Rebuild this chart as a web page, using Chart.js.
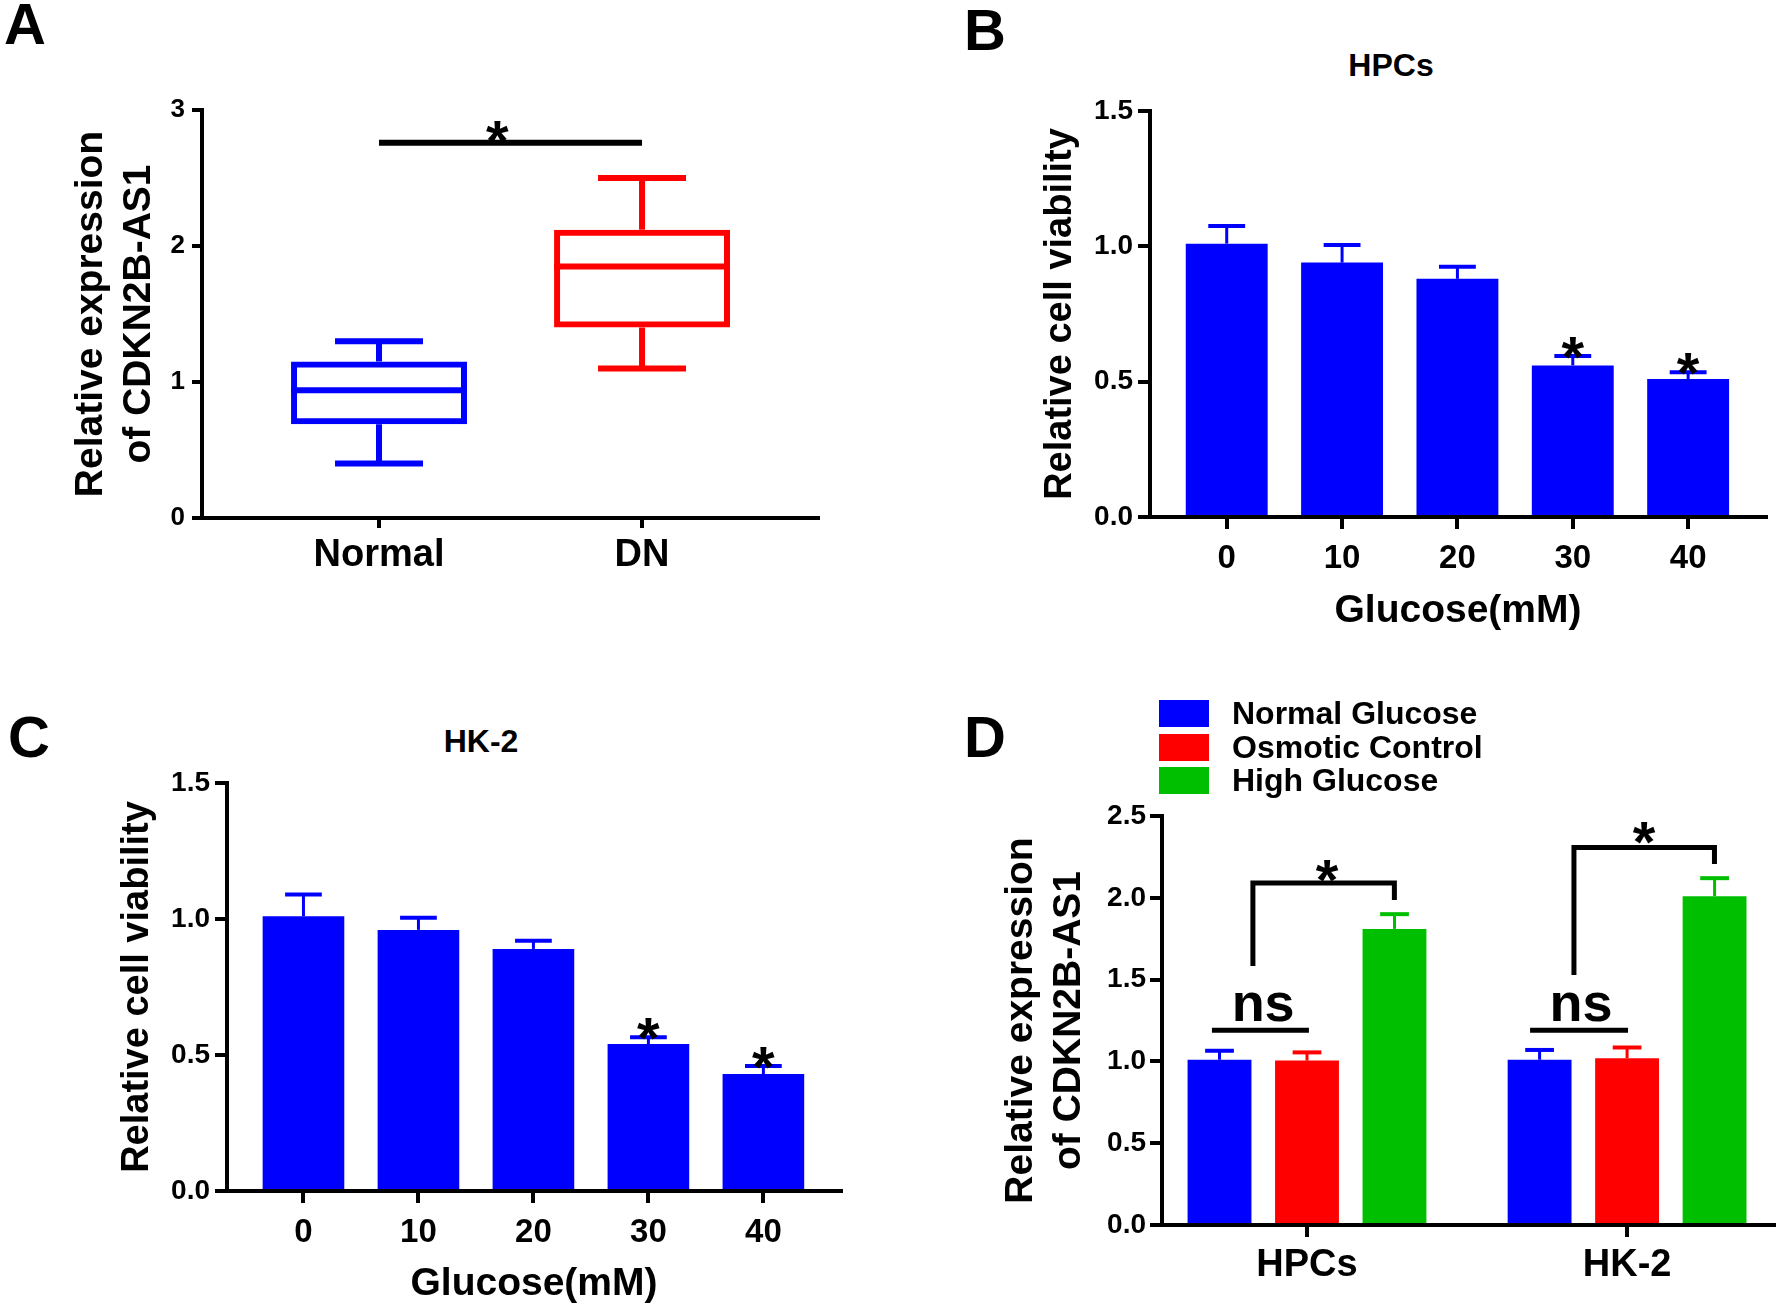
<!DOCTYPE html>
<html>
<head>
<meta charset="utf-8">
<script src="https://cdn.jsdelivr.net/npm/chart.js@4.4.1/dist/chart.umd.min.js"></script>
<style>
  body { margin: 0; background: #fff; font-family: "Liberation Sans", Arial, sans-serif; }
  #page { position: relative; width: 1776px; height: 1311px; overflow: hidden; background: #fff; }
  canvas { position: absolute; }
  .txt { position: absolute; font-weight: bold; color: #000; line-height: 1; white-space: nowrap; }
  .letter { font-size: 58px; }
  .ttl { font-size: 32px; transform: translateX(-50%); }
  #legendD { position: absolute; left: 1159px; top: 700px; z-index: 2; }
  .legRow { display: flex; align-items: flex-start; height: 33.5px; font-weight: bold; font-size: 32px; line-height: 27px; }
  .sw { width: 50px; height: 27px; margin-right: 23px; }
</style>
</head>
<body>
<div id="page">
  <div class="txt letter" style="left:4px; top:-5px;">A</div>
  <div class="txt letter" style="left:964px; top:1px;">B</div>
  <div class="txt letter" style="left:8px; top:708px;">C</div>
  <div class="txt letter" style="left:964px; top:708px;">D</div>
  <div class="txt ttl" style="left:1391px; top:49px;">HPCs</div>
  <div class="txt ttl" style="left:481px; top:725px;">HK-2</div>
  <canvas id="chartA" width="830" height="600" style="left:0px; top:50px;"></canvas>
  <canvas id="chartB" width="896" height="660" style="left:880px; top:0px;"></canvas>
  <canvas id="chartC" width="853" height="651" style="left:0px; top:660px;"></canvas>
  <canvas id="chartD" width="896" height="521" style="left:880px; top:790px;"></canvas>
  <div id="legendD"></div>
</div>
<script>
// panel A - box plot
const catsA = ["Normal", "DN"];
const boxMin = [0.40, 1.10];
const boxQ1 = [0.69, 1.40];
const boxMed = [0.94, 1.85];
const boxQ3 = [1.15, 2.12];
const boxMax = [1.30, 2.50];
const yTicksA = [0, 1, 2, 3];

// panels B and C - viability vs glucose
const glucose = ["0", "10", "20", "30", "40"];
const hpcsViab = [1.01, 0.94, 0.88, 0.56, 0.51];
const hpcsErr = [0.065, 0.065, 0.045, 0.035, 0.025];
const hk2Viab = [1.01, 0.96, 0.89, 0.54, 0.43];
const hk2Err = [0.08, 0.045, 0.03, 0.025, 0.03];
const sigViab = [3, 4];
const yTicksViab = [0, 0.5, 1.0, 1.5];

// panel D - grouped bars
const cellLines = ["HPCs", "HK-2"];
const groupNames = ["Normal Glucose", "Osmotic Control", "High Glucose"];
const normalGlu = [1.01, 1.01];
const normalErr = [0.055, 0.06];
const osmotic = [1.005, 1.02];
const osmoticErr = [0.05, 0.065];
const highGlu = [1.81, 2.01];
const highErr = [0.09, 0.11];
const yTicksD = [0, 0.5, 1.0, 1.5, 2.0, 2.5];

const BLUE = "#0000FF", RED = "#FF0000", GREEN = "#00BF00";

Chart.defaults.font.family = '"Liberation Sans", Arial, sans-serif';
Chart.defaults.font.weight = "bold";
Chart.defaults.color = "#000";

// error bars, box whiskers, brackets and stars
const marks = {
    id: "marks",
    afterDatasetsDraw(chart, args, opts) {
        const ctx = chart.ctx;
        const xs = chart.scales.x, ys = chart.scales.y;
        ctx.save();
        ctx.lineCap = "butt";
        ctx.lineJoin = "miter";

        chart.data.datasets.forEach((ds, di) => {
            const meta = chart.getDatasetMeta(di);
            meta.data.forEach((bar, i) => {
                if (ds.errors) {
                    const top = ys.getPixelForValue(ds.data[i].y + ds.errors[i]);
                    const half = bar.width * 0.45 / 2;
                    ctx.strokeStyle = ds.backgroundColor;
                    ctx.lineWidth = 3;
                    ctx.beginPath(); ctx.moveTo(bar.x, bar.y); ctx.lineTo(bar.x, top); ctx.stroke();
                    ctx.lineWidth = 4;
                    ctx.beginPath(); ctx.moveTo(bar.x - half, top); ctx.lineTo(bar.x + half, top); ctx.stroke();
                }
                if (ds.box) {
                    const c = ds.borderColor[i];
                    const w = bar.width / 2;
                    const cw = bar.width * 0.25;
                    ctx.strokeStyle = c;
                    ctx.lineWidth = 6;
                    const yMed = ys.getPixelForValue(ds.box.med[i]);
                    ctx.beginPath(); ctx.moveTo(bar.x - w, yMed); ctx.lineTo(bar.x + w, yMed); ctx.stroke();
                    const yMax = ys.getPixelForValue(ds.box.max[i]);
                    const yMin = ys.getPixelForValue(ds.box.min[i]);
                    const yQ3 = ys.getPixelForValue(ds.data[i].y[1]);
                    const yQ1 = ys.getPixelForValue(ds.data[i].y[0]);
                    ctx.beginPath();
                    ctx.moveTo(bar.x, yQ3); ctx.lineTo(bar.x, yMax);
                    ctx.moveTo(bar.x - cw, yMax); ctx.lineTo(bar.x + cw, yMax);
                    ctx.moveTo(bar.x, yQ1); ctx.lineTo(bar.x, yMin);
                    ctx.moveTo(bar.x - cw, yMin); ctx.lineTo(bar.x + cw, yMin);
                    ctx.stroke();
                }
            });
        });

        ctx.strokeStyle = "#000";
        (opts.lines || []).forEach(l => {
            ctx.lineWidth = l.w;
            ctx.beginPath();
            l.pts.forEach((p, k) => {
                const px = xs.getPixelForValue(p[0]), py = ys.getPixelForValue(p[1]);
                if (k === 0) ctx.moveTo(px, py); else ctx.lineTo(px, py);
            });
            ctx.stroke();
        });

        ctx.fillStyle = "#000";
        ctx.textAlign = "center";
        ctx.textBaseline = "alphabetic";
        (opts.texts || []).forEach(t => {
            ctx.font = "bold " + t.size + "px " + Chart.defaults.font.family;
            let py = ys.getPixelForValue(t.y) + t.dy;
            if (t.text === "*") py += 0.55 * t.size;
            ctx.fillText(t.text, xs.getPixelForValue(t.x), py);
        });
        ctx.restore();
    }
};

const tickGrid = len => ({ display: true, drawOnChartArea: false, offset: false, drawTicks: true, tickLength: len, lineWidth: 4, color: "#000" });
const axisBorder = { display: true, width: 4, color: "#000" };

function xScale(cats, min, max, size, pad, h, len, title) {
    return {
        type: "linear", min, max, offset: false,
        afterBuildTicks: s => { s.ticks = cats.map((c, i) => ({ value: i })); },
        afterFit: s => { s.height = h; },
        ticks: { callback: v => cats[v], font: { size }, padding: pad, autoSkip: false, maxRotation: 0 },
        grid: tickGrid(len),
        border: axisBorder,
        title: title || { display: false }
    };
}

function yScale(ticks, size, pad, len, w, fmt, title) {
    return {
        min: ticks[0], max: ticks[ticks.length - 1],
        afterBuildTicks: s => { s.ticks = ticks.map(v => ({ value: v })); },
        afterFit: s => { s.width = w; },
        ticks: { callback: fmt, font: { size }, padding: pad },
        grid: tickGrid(len),
        border: axisBorder,
        title
    };
}

const baseOpts = (pad) => ({
    responsive: false, animation: false, devicePixelRatio: 1, events: [],
    layout: { padding: pad },
    plugins: { legend: { display: false }, tooltip: { enabled: false } }
});

// A
const optsA = baseOpts({ left: 0, top: 60, right: 12, bottom: 0 });
optsA.scales = {
    x: xScale(catsA, -0.673, 1.669, 38, 5, 132, 10),
    y: yScale(yTicksA, 26, 7, 10, 202, v => String(v), {
        display: true, text: ["Relative expression", "of CDKN2B-AS1"],
        font: { size: 39, lineHeight: 1.24 }, padding: { top: 67, bottom: 0 }
    })
};
optsA.plugins.marks = {
    lines: [{ w: 6, pts: [[0, 2.76], [1, 2.76]] }],
    texts: [{ x: 0.45, y: 2.76, dy: -14, text: "*", size: 58 }]
};
new Chart(document.getElementById("chartA"), {
    type: "bar",
    data: {
        datasets: [{
            data: catsA.map((c, i) => ({ x: i, y: [boxQ1[i], boxQ3[i]] })),
            box: { min: boxMin, med: boxMed, max: boxMax },
            backgroundColor: "rgba(0,0,0,0)",
            borderColor: [BLUE, RED],
            borderWidth: 6, borderSkipped: false,
            categoryPercentage: 1, barPercentage: 0.669
        }]
    },
    options: optsA,
    plugins: [marks]
});

// B and C
function viabChart(id, vals, errs, pad, yw, titlePad, xh, xTitlePad) {
    const o = baseOpts(pad);
    o.scales = {
        x: xScale(glucose, -0.665, 4.675, 33, 10, xh, 12, {
            display: true, text: "Glucose(mM)", font: { size: 39, lineHeight: 1.2 }, padding: { top: 0, bottom: xTitlePad }
        }),
        y: yScale(yTicksViab, 28, 5, 12, yw, v => v.toFixed(1), {
            display: true, text: "Relative cell viability", font: { size: 38, lineHeight: 1.2 }, padding: { top: titlePad, bottom: 0 }
        })
    };
    o.plugins.marks = {
        texts: sigViab.map(i => ({ x: i, y: vals[i] + errs[i], dy: -11, text: "*", size: 58 }))
    };
    return new Chart(document.getElementById(id), {
        type: "bar",
        data: {
            datasets: [{
                data: glucose.map((g, i) => ({ x: i, y: vals[i] })),
                errors: errs,
                backgroundColor: BLUE, borderWidth: 0,
                categoryPercentage: 1, barPercentage: 0.71
            }]
        },
        options: o,
        plugins: [marks]
    });
}
viabChart("chartB", hpcsViab, hpcsErr, { left: 0, top: 111, right: 10, bottom: 0 }, 270, 158, 143, 25);
viabChart("chartC", hk2Viab, hk2Err, { left: 0, top: 123, right: 12, bottom: 0 }, 227, 115, 120, 3);

// D
const optsD = baseOpts({ left: 0, top: 26, right: 2, bottom: 0 });
optsD.scales = {
    x: xScale(cellLines, -0.453, 1.459, 38, 6, 86, 12),
    y: yScale(yTicksD, 28, 4, 12, 282, v => v.toFixed(1), {
        display: true, text: ["Relative expression", "of CDKN2B-AS1"],
        font: { size: 39, lineHeight: 1.24 }, padding: { top: 117, bottom: 0 }
    })
};
optsD.plugins.marks = {
    lines: [
        { w: 5, pts: [[-0.169, 1.583], [-0.169, 2.09], [0.273, 2.09], [0.273, 1.987]] },
        { w: 5, pts: [[0.834, 1.528], [0.834, 2.307], [1.273, 2.307], [1.273, 2.207]] },
        { w: 5, pts: [[-0.297, 1.19], [0.006, 1.19]] },
        { w: 5, pts: [[0.697, 1.19], [1.003, 1.19]] }
    ],
    texts: [
        { x: 0.0625, y: 2.09, dy: -15, text: "*", size: 58 },
        { x: 1.053, y: 2.307, dy: -17, text: "*", size: 58 },
        { x: -0.137, y: 1.19, dy: -9, text: "ns", size: 54 },
        { x: 0.856, y: 1.19, dy: -9, text: "ns", size: 54 }
    ]
};
const seriesD = [normalGlu, osmotic, highGlu];
const errD = [normalErr, osmoticErr, highErr];
const colorsD = [BLUE, RED, GREEN];
const chartD = new Chart(document.getElementById("chartD"), {
    type: "bar",
    data: {
        datasets: groupNames.map((name, k) => ({
            label: name,
            data: cellLines.map((c, i) => ({ x: i, y: seriesD[k][i] })),
            errors: errD[k],
            backgroundColor: colorsD[k], borderWidth: 0,
            categoryPercentage: 0.82, barPercentage: 0.73
        }))
    },
    options: optsD,
    plugins: [marks]
});

// legend for D built from the chart's datasets
const leg = document.getElementById("legendD");
chartD.data.datasets.forEach(ds => {
    const row = document.createElement("div");
    row.className = "legRow";
    const sw = document.createElement("span");
    sw.className = "sw";
    sw.style.background = ds.backgroundColor;
    const tx = document.createElement("span");
    tx.textContent = ds.label;
    row.append(sw, tx);
    leg.appendChild(row);
});
</script>
</body>
</html>
